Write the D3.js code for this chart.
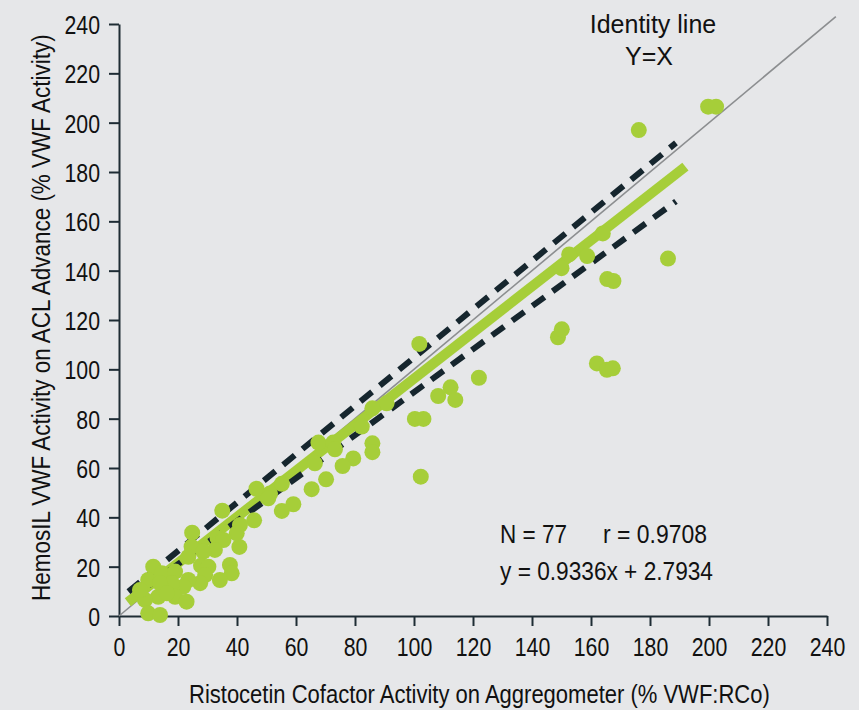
<!DOCTYPE html>
<html>
    <head>
        <meta charset="utf-8">
        <script src="https://d3js.org/d3.v7.min.js"></script>
        <style>
            body { margin: 0; background: #e6e7e9; }
        </style>
    </head>
    <body>
        <script>
            // Scatter data: RCo on aggregometer (x) vs HemosIL VWF activity (y)
            let rcoValues = [199.7, 202.4, 176.2, 186.1, 165.5, 167.6, 162, 165.4, 167.4, 148.8,
                             150.1, 164, 152.6, 158.7, 150, 101.8, 122, 112.4, 108.2, 114,
                             100.3, 103.2, 102.3, 90.7, 85.9, 82.3, 85.9, 85.9, 79.4, 75.8,
                             67.6, 72.6, 73.2, 66.4, 70.2, 65.3, 59.1, 55.2, 46.6, 51.2,
                             50.6, 55.2, 45.8, 35, 41, 40.8, 39.9, 24.8, 33.4, 35.4,
                             32.5, 24.6, 28.6, 23.5, 11.6, 14.5, 9.9, 19, 27.8, 30.3,
                             37.6, 38.2, 34.2, 29.2, 27.5, 23.5, 21.8, 17.9, 19, 22.9,
                             13.3, 8.8, 9.9, 13.9, 7.1, 13.9, 16.2];
            let vwfValues = [206.5, 206.5, 197, 144.9, 136.6, 135.8, 102.4, 99.8, 100.4, 113,
                             116.2, 155.1, 146.6, 145.9, 141, 110.3, 96.6, 92.7, 89.2, 87.6,
                             79.9, 79.9, 56.5, 86.2, 84.2, 76.8, 70, 66.4, 63.9, 60.8,
                             70.3, 70.3, 67.6, 61.9, 55.4, 51.4, 45.3, 42.6, 51.6, 49.7,
                             47.7, 53.6, 38.8, 42.7, 36.9, 28, 33.5, 33.8, 31.6, 30.8,
                             26.8, 28.1, 26.1, 24, 20, 17.3, 14.6, 18, 20.4, 20,
                             20.7, 17.3, 14.6, 16.6, 13.3, 14.6, 11.9, 13.3, 7.8, 5.8,
                             7.8, 6.5, 1.1, 0.4, 10.5, 13.3, 9.2];

            // Reference lines (end points in data units)
            let identityLine = [[0, 0], [243, 243]];
            let regressionLine = [[3, 5.6], [192, 182.2]];
            let upperDashed = [[3.2, 9.9], [188.8, 191.8]];
            let lowerDashed = [[10, 12.3], [188.8, 168.1]];

            let axisTicks = [0, 20, 40, 60, 80, 100, 120, 140, 160, 180, 200, 220, 240];

            let xTitle = "Ristocetin Cofactor Activity on Aggregometer (% VWF:RCo)";
            let yTitle = "HemosIL VWF Activity on ACL Advance (% VWF Activity)";
            let statLines = ["N = 77", "r = 0.9708", "y = 0.9336x + 2.7934"];
            let identityLabel = ["Identity line", "Y=X"];

            var width = 859;
            var height = 710;
            var green = "#a6ce39";
            var dark = "#16262e";
            var font = "'Liberation Sans', Arial, sans-serif";
            var squeeze = 0.82; // the original uses a condensed face

            var svg = d3.select('body').append('svg')
                    .attr('width', width)
                    .attr('height', height)
                    .style('background', '#e6e7e9')
                    .style('font-family', font);

            var x = d3.scaleLinear().domain([0, 240]).range([119, 827]);
            var y = d3.scaleLinear().domain([0, 240]).range([616, 24]);

            //Axes:
            var xAxis = svg.append('g')
                    .attr('transform', 'translate(0,' + y(0) + ')')
                    .call(d3.axisBottom(x).tickValues(axisTicks).tickSize(10).tickSizeOuter(0).tickPadding(12));
            var yAxis = svg.append('g')
                    .attr('transform', 'translate(' + x(0) + ',0)')
                    .call(d3.axisLeft(y).tickValues(axisTicks).tickSize(10).tickSizeOuter(0).tickPadding(9));

            [xAxis, yAxis].forEach(function (a) {
                a.selectAll('path, line').attr('stroke', '#1e2c34').attr('stroke-width', 2);
                a.selectAll('text')
                    .attr('fill', '#111')
                    .style('font-family', font)
                    .style('font-size', '26px')
                    .attr('transform', 'scale(' + squeeze + ',1)');
            });
            yAxis.selectAll('text').attr('dy', '0.36em').attr('x', -19 / squeeze);

            //Lines go under the points:
            var line = d3.line()
                    .x(function (d) { return x(d[0]); })
                    .y(function (d) { return y(d[1]); });

            svg.append('path')
                    .attr('d', line(identityLine))
                    .attr('stroke', '#8c8e90')
                    .attr('stroke-width', 1.6)
                    .attr('fill', 'none');

            svg.append('path')
                    .attr('d', line(regressionLine))
                    .attr('stroke', green)
                    .attr('stroke-width', 10)
                    .attr('fill', 'none');

            [upperDashed, lowerDashed].forEach(function (l) {
                svg.append('path')
                    .attr('d', line(l))
                    .attr('stroke', dark)
                    .attr('stroke-width', 6)
                    .attr('stroke-dasharray', '15,10')
                    .attr('fill', 'none');
            });

            //Points:
            svg.append('g').selectAll('circle')
                    .data(rcoValues)
                    .enter()
                    .append('circle')
                    .attr('cx', function (d) { return x(d); })
                    .attr('cy', function (d, i) { return y(vwfValues[i]); })
                    .attr('r', 8)
                    .attr('fill', green);

            //Text squeezed horizontally so it spans the given width
            function squeezedText(parent, str, px, tx, ty, w, rotate) {
                var g = parent.append('g')
                        .attr('transform', 'translate(' + tx + ',' + ty + ')' + (rotate ? ' rotate(-90)' : ''));
                var t = g.append('text')
                        .style('font-size', px + 'px')
                        .attr('fill', '#111')
                        .text(str);
                var k = w / t.node().getComputedTextLength();
                t.attr('transform', 'scale(' + k + ',1)');
                return t;
            }

            squeezedText(svg, xTitle, 26, 189, 703, 581, false);
            squeezedText(svg, yTitle, 26, 50, 601, 567, true);

            //Annotations:
            squeezedText(svg, statLines[0], 25, 500, 543, 67, false);
            squeezedText(svg, statLines[1], 25, 603, 543, 104, false);
            squeezedText(svg, statLines[2], 25, 500, 580, 213, false);

            var idl = svg.append('g')
                    .style('font-size', '25px')
                    .attr('fill', '#111')
                    .attr('text-anchor', 'middle');
            idl.append('text').attr('x', 653).attr('y', 33).text(identityLabel[0]);
            idl.append('text').attr('x', 649).attr('y', 65).text(identityLabel[1]);
        </script>
    </body>
</html>
